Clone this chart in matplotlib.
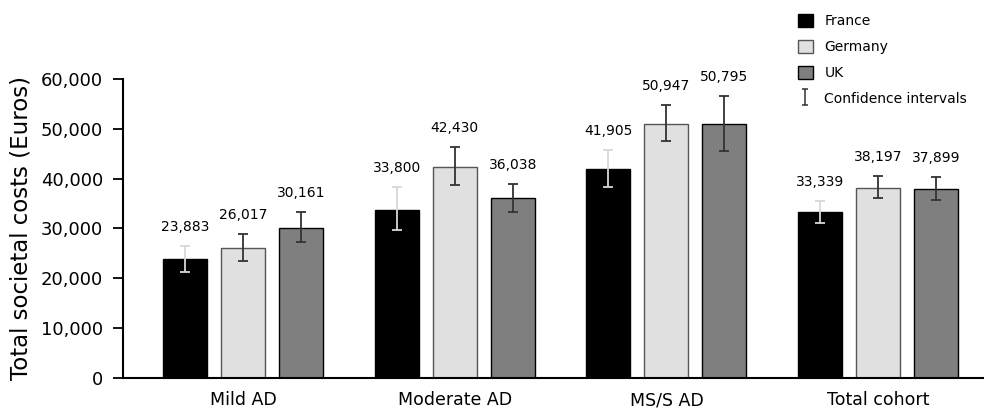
import matplotlib.pyplot as plt
import numpy as np
from matplotlib.patches import Patch
from matplotlib.lines import Line2D
from matplotlib.path import Path

plt.rcParams['font.family'] = ['DejaVu Sans']

# data
groups = ['Mild AD', 'Moderate AD', 'MS/S AD', 'Total cohort']
countries = ['France', 'Germany', 'UK']

france = [23883, 33800, 41905, 33339]
germany = [26017, 42430, 50947, 38197]
uk = [30161, 36038, 50795, 37899]

# bar heights as drawn (UK MS/S bar is drawn level with Germany)
france_bar = [23883, 33800, 41905, 33339]
germany_bar = [26017, 42430, 50947, 38197]
uk_bar = [30161, 36038, 50947, 37899]

france_lo = [21290, 29780, 38410, 31120]
france_hi = [26500, 38410, 45840, 35600]
germany_lo = [23490, 38690, 47590, 36080]
germany_hi = [28850, 46320, 54750, 40500]
uk_lo = [27310, 33330, 45580, 35680]
uk_hi = [33330, 38960, 56560, 40290]

fig = plt.figure(figsize=(9.84, 4.09), dpi=100)
ax = fig.add_axes([0.125, 0.0758, 0.875, 0.7312])

x = np.arange(len(groups))
w = 0.208
step = 0.274

series = [
    (france_bar, france, france_lo, france_hi, '#000000', '#000000', '#d8d8d8'),
    (germany_bar, germany, germany_lo, germany_hi, '#e0e0e0', '#555555', '#333333'),
    (uk_bar, uk, uk_lo, uk_hi, '#7f7f7f', '#000000', '#333333'),
]

for i, (bars, labels, lo, hi, fc, ec, errc) in enumerate(series):
    pos = x + (i - 1) * step
    bars = np.array(bars)
    ax.bar(pos, bars, width=w, color=fc, edgecolor=ec, linewidth=1.0, zorder=2)
    yerr = [bars - np.array(lo), np.array(hi) - bars]
    ax.errorbar(pos, bars, yerr=yerr, fmt='none', ecolor=errc,
                elinewidth=1.3, capsize=3.5, capthick=1.3, zorder=3)
    for p, top, lab in zip(pos, hi, labels):
        ax.annotate(f'{lab:,}', (p, top), xytext=(0, 8.5), textcoords='offset points',
                    ha='center', va='bottom', fontsize=10)

ax.set_xlim(-0.567, 3.5)
ax.set_ylim(0, 60000)
ax.set_yticks(np.arange(0, 60001, 10000))
ax.set_yticklabels([f'{v:,}' for v in range(0, 60001, 10000)])
ax.set_xticks(x)
ax.set_xticklabels(groups)
ax.tick_params(axis='x', length=0, pad=9.5, labelsize=12.5)
ax.tick_params(axis='y', length=7.5, width=1.3, pad=7, labelsize=13)
ax.set_ylabel('Total societal costs (Euros)', fontsize=16.5, labelpad=6)

for s in ['top', 'right']:
    ax.spines[s].set_visible(False)
for s in ['left', 'bottom']:
    ax.spines[s].set_linewidth(1.5)

# legend
ibeam = Path([(-0.35, -1), (0.35, -1), (0, -1), (0, 1), (-0.35, 1), (0.35, 1)],
             [Path.MOVETO, Path.LINETO, Path.MOVETO, Path.LINETO, Path.MOVETO, Path.LINETO])
handles = [
    Patch(facecolor='#000000', edgecolor='#000000'),
    Patch(facecolor='#e0e0e0', edgecolor='#555555'),
    Patch(facecolor='#7f7f7f', edgecolor='#000000'),
    Line2D([], [], linestyle='none', marker=ibeam, markersize=11,
           markeredgecolor='#333333', markerfacecolor='none', markeredgewidth=1.1),
]
fig.legend(handles, countries + ['Confidence intervals'], loc='upper left',
           bbox_to_anchor=(0.805, 0.98), frameon=False, fontsize=10,
           handlelength=1.08, handleheight=1.08, handletextpad=0.85,
           labelspacing=0.84, borderaxespad=0)

fig.savefig('out.png', dpi=100)
